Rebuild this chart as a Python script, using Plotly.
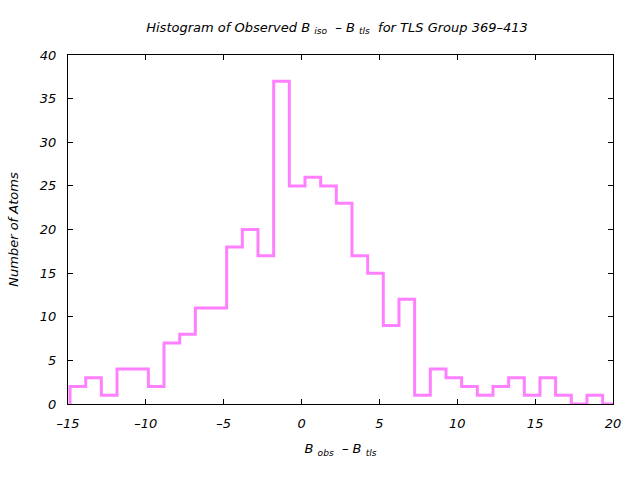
import plotly.graph_objects as go

# Histogram data
bin_start = -14.87
bin_width = 1.006
counts = [2, 3, 1, 4, 4, 2, 7, 8, 11, 11, 18, 20, 17, 37, 25, 26, 25, 23, 17, 15,
          9, 12, 1, 4, 3, 2, 1, 2, 3, 1, 3, 1, 0, 1, 0]
x_ticks = [-15, -10, -5, 0, 5, 10, 15, 20]
y_ticks = [0, 5, 10, 15, 20, 25, 30, 35, 40]

edges = [bin_start + i * bin_width for i in range(len(counts) + 1)]
xs = [edges[0]] + edges
ys = [0] + counts + [counts[-1]]

FONT = "DejaVu Sans"
FS = 13
fig = go.Figure()
fig.add_trace(go.Scatter(x=xs, y=ys, mode="lines", line=dict(color="#ff80ff", width=3, shape="hv"),
                         showlegend=False, hoverinfo="skip"))

axis_common = dict(showgrid=False, zeroline=False, showline=True, linecolor="black", linewidth=1,
                   mirror="allticks", ticks="inside", ticklen=5, tickcolor="black", automargin=False,
                   tickfont=dict(family=FONT, size=FS, color="black", style="italic"))

def lab(v):
    return f"\u2013{abs(v)}" if v < 0 else f"{v}"

fig.update_layout(
    width=640, height=480,
    margin=dict(l=68, r=27, t=55, b=76),
    paper_bgcolor="white", plot_bgcolor="white",
    title=dict(text="Histogram of Observed B <sub>iso</sub>  \u2013 B <sub>tls</sub>  for TLS Group 369\u2013413",
               x=337 / 640, xanchor="center", y=1 - 27 / 480, yanchor="middle", yref="container",
               font=dict(family=FONT, size=FS, color="black", style="italic")),
    xaxis=dict(range=[-15, 20], tickvals=x_ticks, ticktext=[lab(v) for v in x_ticks],
               ticklabelstandoff=7,
               title=dict(text="B <sub>obs</sub>  \u2013 B <sub>tls</sub>", standoff=14,
                          font=dict(family=FONT, size=FS, color="black", style="italic")),
               **axis_common),
    yaxis=dict(range=[0, 40], tickvals=y_ticks, ticktext=[lab(v) for v in y_ticks],
               ticklabelstandoff=8,
               title=dict(text="Number of Atoms", standoff=18,
                          font=dict(family=FONT, size=FS, color="black", style="italic")),
               **axis_common),
)
fig.write_html("out.html", post_script="document.body.style.margin='0';",
               config={"displayModeBar": False})
